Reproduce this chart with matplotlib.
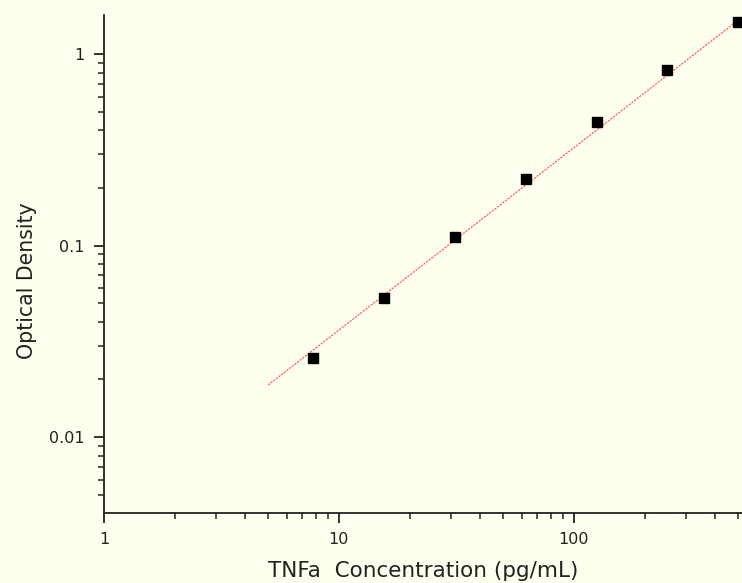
import matplotlib
matplotlib.use('Agg')
import matplotlib.pyplot as plt
from matplotlib.ticker import LogLocator, FixedLocator, FixedFormatter, NullFormatter

# standard curve points
conc = [7.8, 15.6, 31.25, 62.5, 125, 250, 500]
od = [0.026, 0.053, 0.111, 0.222, 0.441, 0.825, 1.47]

# fitted line endpoints
fit_x = [5, 520]
fit_y = [0.0187, 1.56]

x_ticks = [1, 10, 100]
x_labels = ['1', '10', '100']
y_ticks = [0.01, 0.1, 1]
y_labels = ['0.01', '0.1', '1']

bg = '#fffff0'
plt.rcParams['font.family'] = ['DejaVu Sans']

fig = plt.figure(figsize=(7.42, 5.83), dpi=100, facecolor=bg)
ax = fig.add_axes([0.140, 0.120, 0.860, 0.854])
ax.set_facecolor(bg)

ax.plot(fit_x, fit_y, color='#ff5050', lw=0.8, ls=(0, (2, 1)))
ax.plot(conc, od, 's', color='black', ms=6.5, clip_on=False)

ax.set_xscale('log')
ax.set_yscale('log')
ax.set_xlim(1, 520)
ax.set_ylim(0.00401, 1.6)

ax.xaxis.set_major_locator(FixedLocator(x_ticks))
ax.xaxis.set_major_formatter(FixedFormatter(x_labels))
ax.yaxis.set_major_locator(FixedLocator(y_ticks))
ax.yaxis.set_major_formatter(FixedFormatter(y_labels))
ax.xaxis.set_minor_locator(LogLocator(base=10, subs=range(2, 10)))
ax.yaxis.set_minor_locator(LogLocator(base=10, subs=range(2, 10)))
ax.xaxis.set_minor_formatter(NullFormatter())
ax.yaxis.set_minor_formatter(NullFormatter())

for s in ['top', 'right']:
    ax.spines[s].set_visible(False)
for s in ['left', 'bottom']:
    ax.spines[s].set_linewidth(1.3)
    ax.spines[s].set_color('#222222')

ax.tick_params(which='major', direction='out', length=7, width=1.3, colors='#222222',
               labelsize=11.5, pad=7)
ax.tick_params(which='minor', direction='out', length=4, width=1.1, colors='#222222')

ax.set_xlabel('TNFa  Concentration (pg/mL)', fontsize=15.5, color='#222222')
ax.set_ylabel('Optical Density', fontsize=14.8, color='#222222')
ax.xaxis.set_label_coords(0.5, -0.096)
ax.yaxis.set_label_coords(-0.105, 0.466)

fig.savefig('out.png', dpi=100, facecolor=bg)
